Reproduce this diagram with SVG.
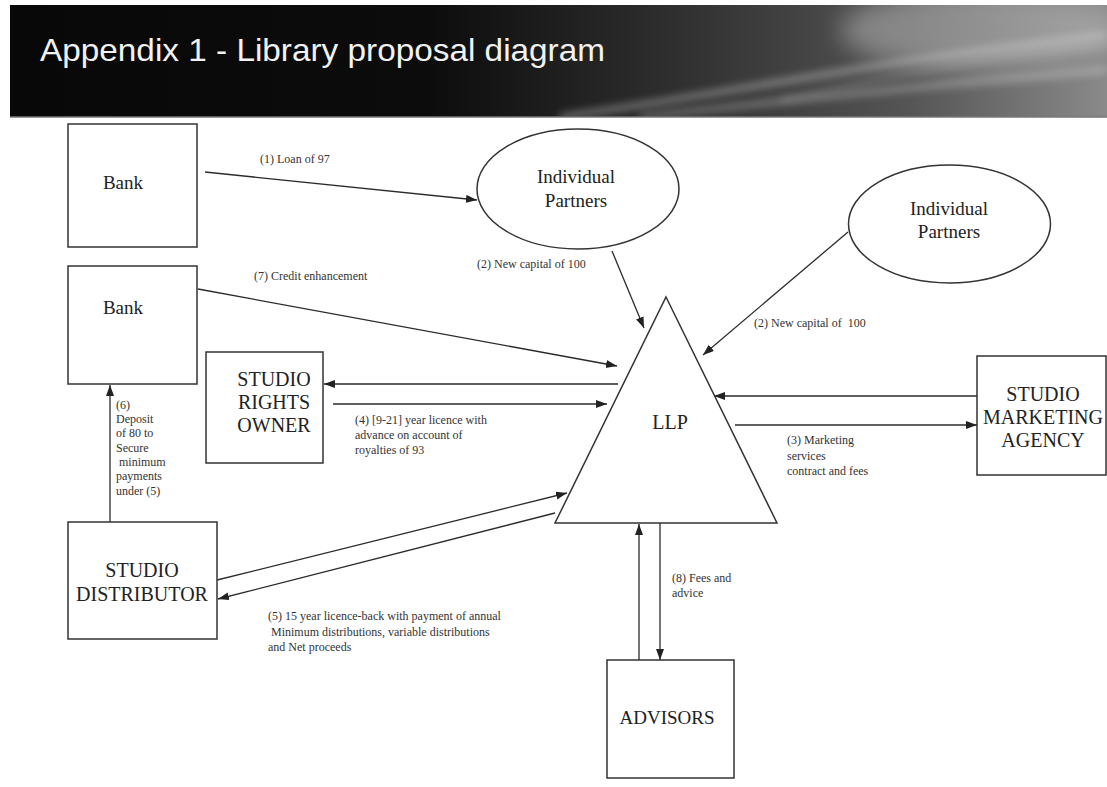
<svg xmlns="http://www.w3.org/2000/svg" width="1107" height="787" viewBox="0 0 1107 787">
<style>
  .box{fill:#fff;stroke:#333;stroke-width:1.5}
  .node{font-family:"Liberation Serif","Times New Roman",serif;fill:#222;text-anchor:middle}
  .lbl{font-family:"Liberation Serif","Times New Roman",serif;font-size:12px;fill:#333}
  .con{stroke:#2a2a2a;stroke-width:1.3;fill:none}
  .arr{marker-end:url(#ah)}
</style>
<defs>
  <marker id="ah" markerUnits="userSpaceOnUse" markerWidth="12" markerHeight="9" refX="11" refY="4" orient="auto">
    <path d="M0,0 L11,4 L0,8 z" fill="#222"/>
  </marker>
  <linearGradient id="band" x1="0" y1="0" x2="1" y2="0">
    <stop offset="0" stop-color="#080808"/>
    <stop offset="0.38" stop-color="#0c0c0c"/>
    <stop offset="0.6" stop-color="#2e2e2e"/>
    <stop offset="0.82" stop-color="#555"/>
    <stop offset="1" stop-color="#8a8a8a"/>
  </linearGradient>
  <filter id="blur" x="-10%" y="-50%" width="120%" height="200%">
    <feGaussianBlur stdDeviation="4"/>
  </filter>
  <filter id="blur2" x="-10%" y="-50%" width="120%" height="200%">
    <feGaussianBlur stdDeviation="12"/>
  </filter>
  <clipPath id="bandclip"><rect x="10" y="5" width="1097" height="112"/></clipPath>
</defs>

<rect x="0" y="0" width="1107" height="787" fill="#fff"/>

<g id="header">
  <rect x="10" y="5" width="1097" height="112" fill="url(#band)"/>
  <g clip-path="url(#bandclip)">
    <ellipse cx="980" cy="30" rx="140" ry="40" fill="#bbb" opacity="0.5" filter="url(#blur2)"/>
    <path d="M560,117 C720,95 880,60 1107,35" stroke="#ddd" stroke-width="5" fill="none" opacity="0.55" filter="url(#blur)"/>
    <path d="M640,117 C790,100 930,85 1107,70" stroke="#eee" stroke-width="4" fill="none" opacity="0.5" filter="url(#blur)"/>
    <path d="M780,100 C880,80 980,55 1107,45" stroke="#fff" stroke-width="2" fill="none" opacity="0.45" filter="url(#blur)"/>
  </g>
  <line x1="10" y1="117" x2="1107" y2="117" stroke="#777" stroke-width="1.5"/>
  <text x="40" y="61" font-family="Liberation Sans, Arial, sans-serif" font-size="32" fill="#f2f2f2" textLength="565" lengthAdjust="spacingAndGlyphs">Appendix 1 - Library proposal diagram</text>
</g>

<g id="connectors">
  <line class="con arr" x1="205" y1="172" x2="477" y2="200"/>
  <line class="con arr" x1="612" y1="251" x2="644" y2="328"/>
  <line class="con arr" x1="848" y1="232" x2="703" y2="355"/>
  <line class="con arr" x1="198" y1="289" x2="617" y2="366"/>
  <line class="con arr" x1="618" y1="384" x2="324" y2="384"/>
  <line class="con arr" x1="333" y1="404" x2="607" y2="404"/>
  <line class="con arr" x1="977" y1="396" x2="714" y2="396"/>
  <line class="con arr" x1="735" y1="425" x2="977" y2="425"/>
  <line class="con arr" x1="110" y1="522" x2="110" y2="385"/>
  <line class="con arr" x1="217" y1="580" x2="567" y2="493"/>
  <line class="con arr" x1="555" y1="513" x2="218" y2="599"/>
  <line class="con arr" x1="639" y1="660" x2="639" y2="524"/>
  <line class="con arr" x1="660" y1="523" x2="660" y2="660"/>
  <text class="lbl" x="260" y="163">(1) Loan of 97</text>
  <text class="lbl" x="477" y="268">(2) New capital of 100</text>
  <text class="lbl" x="754" y="327" xml:space="preserve">(2) New capital of  100</text>
  <text class="lbl" x="254" y="280">(7) Credit enhancement</text>
  <text class="lbl" x="355" y="424">(4) [9-21] year licence with</text>
  <text class="lbl" x="355" y="439">advance on account of</text>
  <text class="lbl" x="355" y="454">royalties of 93</text>
  <text class="lbl" x="787" y="444">(3) Marketing</text>
  <text class="lbl" x="787" y="460">services</text>
  <text class="lbl" x="787" y="475">contract and fees</text>
  <text class="lbl" x="116" y="409">(6)</text>
  <text class="lbl" x="116" y="423">Deposit</text>
  <text class="lbl" x="116" y="437">of 80 to</text>
  <text class="lbl" x="116" y="452">Secure</text>
  <text class="lbl" x="116" y="466" xml:space="preserve"> minimum</text>
  <text class="lbl" x="116" y="480">payments</text>
  <text class="lbl" x="116" y="495">under (5)</text>
  <text class="lbl" x="268" y="620">(5) 15 year licence-back with payment of annual</text>
  <text class="lbl" x="268" y="636" xml:space="preserve"> Minimum distributions, variable distributions</text>
  <text class="lbl" x="268" y="651">and Net proceeds</text>
  <text class="lbl" x="672" y="582">(8) Fees and</text>
  <text class="lbl" x="672" y="597">advice</text>
</g>

<g id="bank1">
  <rect class="box" x="68" y="124" width="129" height="123"/>
  <text class="node" x="123" y="189" font-size="19">Bank</text>
</g>
<g id="bank2">
  <rect class="box" x="68" y="266" width="129" height="118"/>
  <text class="node" x="123" y="314" font-size="19">Bank</text>
</g>
<g id="partners1">
  <ellipse class="box" cx="578" cy="189" rx="101" ry="60"/>
  <text class="node" x="576" y="183" font-size="19">Individual</text>
  <text class="node" x="576" y="207" font-size="19">Partners</text>
</g>
<g id="partners2">
  <ellipse class="box" cx="949.5" cy="224" rx="101" ry="59"/>
  <text class="node" x="949" y="215" font-size="19">Individual</text>
  <text class="node" x="949" y="238" font-size="19">Partners</text>
</g>
<g id="rights-owner">
  <rect class="box" x="206" y="352" width="117" height="111"/>
  <text class="node" x="274" y="386" font-size="20">STUDIO</text>
  <text class="node" x="274" y="409" font-size="20">RIGHTS</text>
  <text class="node" x="274" y="432" font-size="20">OWNER</text>
</g>
<g id="llp">
  <polygon class="box" points="666,297 777,523 555,523"/>
  <text class="node" x="670" y="429" font-size="20">LLP</text>
</g>
<g id="marketing-agency">
  <rect class="box" x="977" y="356" width="129" height="119"/>
  <text class="node" x="1043" y="401" font-size="20">STUDIO</text>
  <text class="node" x="1043" y="424" font-size="20">MARKETING</text>
  <text class="node" x="1043" y="447" font-size="20">AGENCY</text>
</g>
<g id="distributor">
  <rect class="box" x="68" y="522" width="149" height="117"/>
  <text class="node" x="142" y="577" font-size="20">STUDIO</text>
  <text class="node" x="142" y="601" font-size="20">DISTRIBUTOR</text>
</g>
<g id="advisors">
  <rect class="box" x="607" y="660" width="127" height="118"/>
  <text class="node" x="667" y="724" font-size="19">ADVISORS</text>
</g>
</svg>
